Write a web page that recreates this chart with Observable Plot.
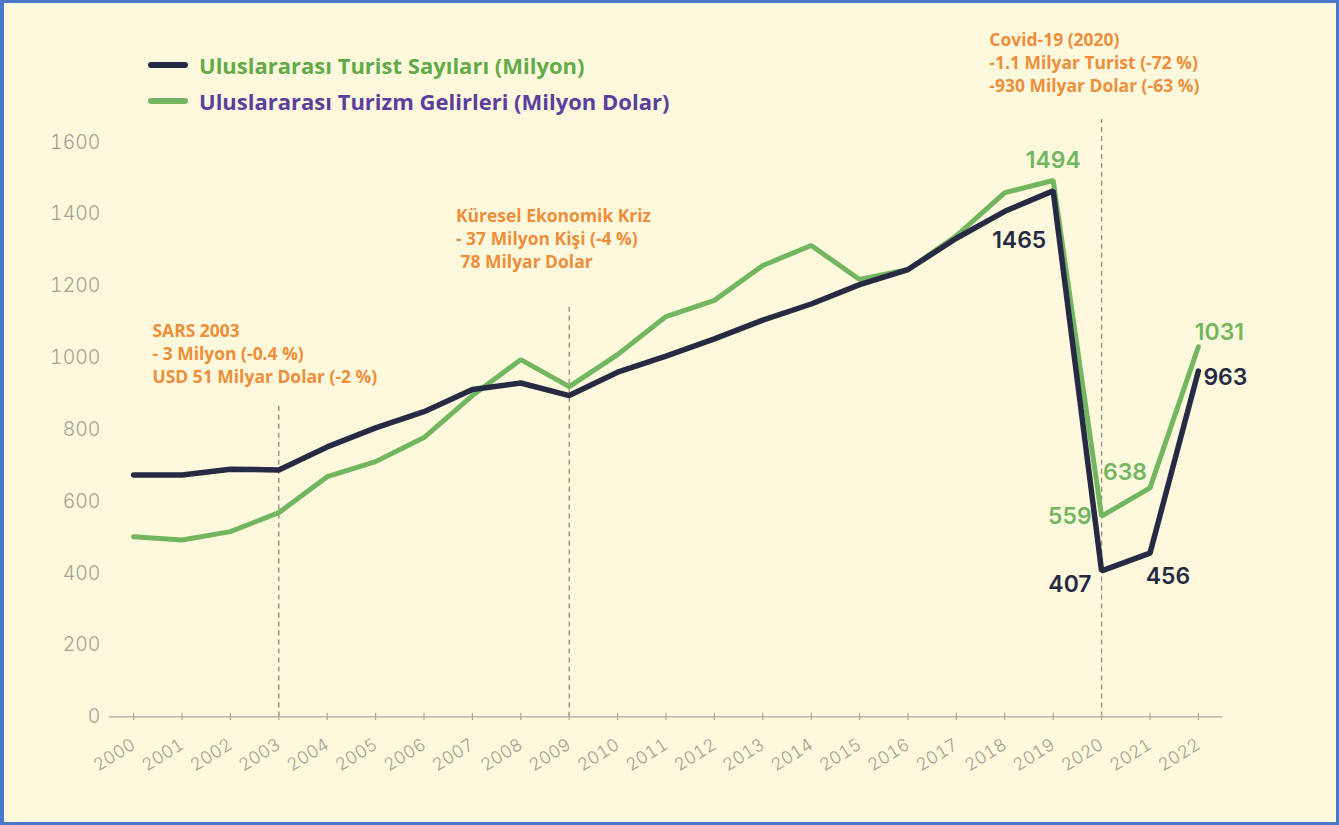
<!DOCTYPE html>
<html>
<head>
<meta charset="utf-8">
<script src="https://cdn.jsdelivr.net/npm/d3@7"></script>
<script src="https://cdn.jsdelivr.net/npm/@observablehq/plot@0.6"></script>
<style>
  html, body { margin: 0; padding: 0; background: #ffffff; }
  #frame {
    position: absolute; left: 0; top: 0; width: 1339px; height: 825px;
    box-sizing: border-box; border: 3px solid #4a78c9; border-left-width: 4px;
    background: #fef9dc; overflow: hidden;
  }
  #legend { position: absolute; left: 144px; top: 44px; font-family: "Open Sans", sans-serif; font-weight: 700; font-size: 22px; }
  .item { display: flex; align-items: center; height: 36px; }
  .swatch { width: 40px; height: 6px; border-radius: 3px; margin-right: 11px; }
  #chart { position: absolute; left: 0; top: 0; }
</style>
</head>
<body>
<div id="frame">
  <div id="chart"></div>
  <div id="legend"></div>
</div>
<script>
const years = [2000,2001,2002,2003,2004,2005,2006,2007,2008,2009,2010,2011,2012,2013,2014,2015,2016,2017,2018,2019,2020,2021,2022];
const tourists = [674,674,690,688,752,805,850,912,930,895,960,1005,1053,1105,1150,1204,1246,1333,1408,1465,407,456,963];
const revenue  = [502,493,516,569,669,711,778,895,995,920,1009,1115,1160,1257,1313,1218,1246,1340,1460,1494,559,638,1031];
const seriesNames = ["Uluslararası Turist Sayıları (Milyon)", "Uluslararası Turizm Gelirleri (Milyon Dolar)"];
const yTicks = [0,200,400,600,800,1000,1200,1400,1600];
const events = [
  {year: 2003, top: 870, text: "SARS 2003\n- 3 Milyon (-0.4 %)\nUSD 51 Milyar Dolar (-2 %)"},
  {year: 2009, top: 1148, text: "Küresel Ekonomik Kriz\n- 37 Milyon Kişi (-4 %)\n 78 Milyar Dolar"},
  {year: 2020, top: 1664, text: "Covid-19 (2020)\n-1.1 Milyar Turist (-72 %)\n-930 Milyar Dolar (-63 %)"}
];

const darkColor = "#272a43";
const greenColor = "#73b660";
const orange = "#ef8e3a";
const axisGray = "#a3a192";

const tData = years.map((y, i) => ({year: y, value: tourists[i]}));
const rData = years.map((y, i) => ({year: y, value: revenue[i]}));
const pick = (arr, yr) => arr.filter(d => d.year === yr);

const numFont = {fontFamily: "Inter, sans-serif", fontSize: 23, fontWeight: 600};
const noteFont = {fontFamily: "Open Sans, sans-serif", fontSize: 17.5, fontWeight: 700, fill: orange, lineHeight: 1.32, textAnchor: "start", lineAnchor: "top"};

const chart = Plot.plot({
  width: 1333,
  height: 819,
  marginLeft: 105,
  marginRight: 114,
  marginTop: 139,
  marginBottom: 105,
  style: {background: "transparent", fontFamily: "Inter, sans-serif", overflow: "visible"},
  x: {domain: [1999.5, 2022.5]},
  y: {domain: [0, 1600]},
  marks: [
    Plot.ruleX(events, {x: "year", y1: 0, y2: "top", stroke: "#8f8d80", strokeWidth: 1.3, strokeDasharray: "5,4"}),
    Plot.ruleY([0], {x1: 1999.5, x2: 2022.5, stroke: "#aaa89a", strokeWidth: 1.3}),
    Plot.ruleX(years, {x: d => d, y1: -10, y2: 10, stroke: "#aaa89a", strokeWidth: 1.2}),
    Plot.axisY({ticks: yTicks, tickFormat: d => String(d), tickSize: 0, tickPadding: 9, fontSize: 19.5, fontFamily: "Inter, sans-serif", fontWeight: 300, color: axisGray, label: null}),
    Plot.axisX({ticks: years, tickFormat: d => String(d), tickSize: 0, tickPadding: 26, tickRotate: -32, fontSize: 17.5, fontFamily: "Inter, sans-serif", fontWeight: 300, color: axisGray, label: null}),
    Plot.line(rData, {x: "year", y: "value", stroke: greenColor, strokeWidth: 5, strokeLinejoin: "miter"}),
    Plot.line(tData, {x: "year", y: "value", stroke: darkColor, strokeWidth: 5.5, strokeLinejoin: "miter"}),
    // value labels
    Plot.text(pick(rData, 2019), {x: "year", y: "value", text: d => String(d.value), dy: -20, fill: greenColor, ...numFont}),
    Plot.text(pick(tData, 2019), {x: "year", y: "value", text: d => String(d.value), dx: -34, dy: 50, fill: darkColor, ...numFont}),
    Plot.text(pick(rData, 2020), {x: "year", y: "value", text: d => String(d.value), dx: -10, dy: 0, textAnchor: "end", fill: greenColor, ...numFont}),
    Plot.text(pick(rData, 2021), {x: "year", y: "value", text: d => String(d.value), dx: -47, dy: -15, textAnchor: "start", fill: greenColor, ...numFont}),
    Plot.text(pick(tData, 2020), {x: "year", y: "value", text: d => String(d.value), dx: -10, dy: 14, textAnchor: "end", fill: darkColor, ...numFont}),
    Plot.text(pick(tData, 2021), {x: "year", y: "value", text: d => String(d.value), dx: 18, dy: 23, fill: darkColor, ...numFont}),
    Plot.text(pick(rData, 2022), {x: "year", y: "value", text: d => String(d.value), dx: 21, dy: -14, fill: greenColor, ...numFont}),
    Plot.text(pick(tData, 2022), {x: "year", y: "value", text: d => String(d.value), dx: 5, dy: 7, textAnchor: "start", fill: darkColor, ...numFont}),
    // event annotations
    Plot.text([events[0]], {x: 2000.39, y: 1104, text: "text", ...noteFont}),
    Plot.text([events[1]], {x: 2006.66, y: 1424, text: "text", ...noteFont}),
    Plot.text([events[2]], {x: 2017.68, y: 1914, text: "text", ...noteFont})
  ]
});
document.getElementById("chart").appendChild(chart);

const legend = document.getElementById("legend");
[[seriesNames[0], darkColor, "#62ab48"], [seriesNames[1], greenColor, "#5b3f9c"]].forEach(([name, sw, tc]) => {
  const item = document.createElement("div");
  item.className = "item";
  item.innerHTML = `<span class="swatch" style="background:${sw}"></span><span style="color:${tc}">${name}</span>`;
  legend.appendChild(item);
});
</script>
</body>
</html>
